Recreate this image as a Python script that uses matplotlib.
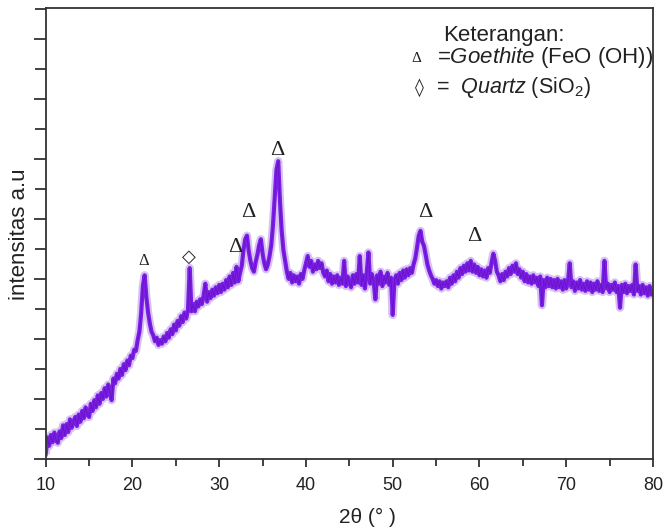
import numpy as np
import matplotlib
matplotlib.use("Agg")
import matplotlib.pyplot as plt
from matplotlib.ticker import MultipleLocator

plt.rcParams['font.family'] = ['Liberation Sans', 'DejaVu Sans']
plt.rcParams['mathtext.fontset'] = 'custom'
plt.rcParams['mathtext.rm'] = 'Liberation Sans'
plt.rcParams['mathtext.it'] = 'Liberation Sans:italic'

# 2-theta from 10 to 80 in 0.2 degree steps; intensity (a.u.)
two_theta_start, two_theta_end = 10, 80
intensity = [
    # 10.0 - 11.8
    0.08, 0.36, 0.22, 0.40, 0.28, 0.44, 0.31, 0.27, 0.46, 0.35,
    # 12.0 - 13.8
    0.56, 0.40, 0.58, 0.45, 0.66, 0.52, 0.62, 0.70, 0.55, 0.74,
    # 14.0 - 15.8
    0.62, 0.80, 0.68, 0.86, 0.74, 0.70, 0.92, 0.80, 0.98, 0.86,
    # 16.0 - 17.8
    1.06, 0.92, 1.10, 1.00, 1.18, 1.04, 1.24, 1.12, 0.98, 1.34,
    # 18.0 - 19.8
    1.26, 1.42, 1.34, 1.50, 1.40, 1.58, 1.48, 1.64, 1.56, 1.72,
    # 20.0 - 21.8
    1.68, 1.82, 1.80, 1.98, 2.12, 2.42, 2.88, 3.06, 2.70, 2.44,
    # 22.0 - 23.8
    2.26, 2.12, 2.06, 1.96, 2.02, 1.90, 1.98, 1.92, 2.04, 1.96,
    # 24.0 - 25.8
    2.10, 2.02, 2.16, 2.08, 2.24, 2.14, 2.30, 2.22, 2.38, 2.28,
    # 26.0 - 27.8
    2.44, 2.34, 2.48, 3.18, 2.46, 2.58, 2.46, 2.62, 2.54, 2.66,
    # 28.0 - 29.8
    2.58, 2.72, 2.92, 2.62, 2.78, 2.68, 2.82, 2.72, 2.86, 2.76,
    # 30.0 - 31.8
    2.90, 2.78, 2.92, 2.82, 2.98, 2.86, 3.04, 2.90, 3.10, 2.94,
    # 32.0 - 33.8
    3.20, 2.96, 3.10, 3.22, 3.48, 3.66, 3.72, 3.46, 3.30, 3.18,
    # 34.0 - 35.8
    3.12, 3.28, 3.40, 3.56, 3.66, 3.42, 3.26, 3.16, 3.24, 3.38,
    # 36.0 - 37.8
    3.56, 3.90, 4.35, 4.82, 4.96, 4.30, 3.80, 3.48, 3.30, 3.12,
    # 38.0 - 39.8
    3.00, 3.10, 2.94, 3.06, 2.96, 3.04, 2.92, 3.08, 3.00, 3.14,
    # 40.0 - 41.8
    3.26, 3.38, 3.20, 3.30, 3.12, 3.24, 3.16, 3.30, 3.18, 3.26,
    # 42.0 - 43.8
    3.10, 3.04, 3.14, 2.96, 3.08, 2.92, 3.04, 2.94, 3.06, 2.90,
    # 44.0 - 45.8
    3.02, 2.92, 3.30, 2.88, 3.04, 2.94, 2.86, 3.06, 2.92, 3.08,
    # 46.0 - 47.8
    2.94, 3.38, 2.90, 3.06, 2.84, 3.10, 3.44, 2.92, 3.08, 2.96,
    # 48.0 - 49.8
    2.66, 3.06, 2.92, 3.12, 2.88, 3.04, 2.94, 3.10, 2.90, 3.02,
    # 50.0 - 51.8
    2.40, 2.98, 3.06, 2.92, 3.10, 2.98, 3.14, 3.02, 3.16, 3.06,
    # 52.0 - 53.8
    3.18, 3.10, 3.24, 3.34, 3.52, 3.72, 3.80, 3.62, 3.55, 3.40,
    # 54.0 - 55.8
    3.24, 3.14, 3.06, 3.00, 2.92, 2.98, 2.88, 2.96, 2.84, 2.94,
    # 56.0 - 57.8
    2.88, 2.96, 2.86, 3.02, 2.92, 3.06, 2.96, 3.12, 3.02, 3.18,
    # 58.0 - 59.8
    3.08, 3.22, 3.12, 3.26, 3.14, 3.30, 3.12, 3.24, 3.10, 3.20,
    # 60.0 - 61.8
    3.06, 3.16, 3.04, 3.14, 3.02, 3.18, 3.10, 3.28, 3.42, 3.30,
    # 62.0 - 63.8
    3.12, 3.06, 2.96, 3.08, 2.98, 3.12, 3.04, 3.18, 3.08, 3.22,
    # 64.0 - 65.8
    3.12, 3.26, 3.08, 3.16, 3.02, 3.12, 2.96, 3.08, 2.94, 3.04,
    # 66.0 - 67.8
    2.92, 3.06, 2.94, 3.02, 2.88, 3.04, 2.56, 2.98, 2.86, 3.02,
    # 68.0 - 69.8
    2.88, 3.00, 2.86, 2.98, 2.84, 3.00, 2.86, 2.96, 2.82, 2.98,
    # 70.0 - 71.8
    2.84, 2.96, 3.26, 2.86, 2.96, 2.80, 2.94, 2.84, 2.98, 2.82,
    # 72.0 - 73.8
    2.92, 2.80, 2.96, 2.82, 2.94, 2.78, 2.92, 2.82, 2.96, 2.80,
    # 74.0 - 75.8
    2.90, 2.78, 3.30, 2.84, 2.92, 2.78, 2.90, 2.82, 2.94, 2.78,
    # 76.0 - 77.8
    2.88, 2.52, 2.90, 2.78, 2.92, 2.76, 2.88, 2.80, 2.90, 2.74,
    # 78.0 - 79.8
    3.24, 2.80, 2.88, 2.74, 2.90, 2.76, 2.86, 2.72, 2.88, 2.74,
    # 80.0
    2.78,
]
two_theta = np.linspace(two_theta_start, two_theta_end, len(intensity))

# peak labels
goethite_peaks_x = [21.33, 31.9, 33.35, 36.7, 53.72, 59.37]
goethite_peaks_y = [3.29, 3.52, 4.11, 5.13, 4.10, 3.71]
goethite_sizes = [12, 16, 16, 16, 16, 16]
quartz_peaks_x = [26.55]
quartz_peaks_y = [3.37]

W, H = 665, 528
fig = plt.figure(figsize=(W / 100, H / 100), dpi=100)
ax = fig.add_axes([45.7 / W, 1 - 459 / H, (653 - 45.7) / W, (459 - 7.5) / H])

ax.plot(two_theta, intensity, color='#c6aaee', lw=6.0, alpha=0.7, solid_capstyle='butt')
ax.plot(two_theta, intensity, color='#7c1ee8', lw=3.0)
ax.plot(two_theta, intensity, color='#5e12b8', lw=0.6, alpha=0.8)

ax.set_xlim(10, 80)
ax.set_ylim(0, 7.52)
ax.xaxis.set_major_locator(MultipleLocator(10))
ax.xaxis.set_minor_locator(MultipleLocator(5))
ax.yaxis.set_major_locator(MultipleLocator(1))
ax.yaxis.set_minor_locator(MultipleLocator(0.5))
ax.tick_params(axis='y', which='major', direction='out', length=9, width=1.3, labelleft=False)
ax.tick_params(axis='y', which='minor', direction='out', length=8, width=1.3)
ax.tick_params(axis='x', which='major', direction='out', length=6, width=1.3, labelsize=13, pad=7,
               colors='#333333', labelcolor='#222222')
ax.tick_params(axis='x', which='minor', direction='out', length=5, width=1.3, colors='#333333')
ax.tick_params(axis='y', which='both', colors='#333333')
for s in ax.spines.values():
    s.set_linewidth(1.3)
    s.set_color('#333333')

for x, y, sz in zip(goethite_peaks_x, goethite_peaks_y, goethite_sizes):
    ax.text(x, y, 'Δ', fontsize=sz, family=['Liberation Serif', 'DejaVu Serif'],
            ha='center', va='center', color='#222222')
for x, y in zip(quartz_peaks_x, quartz_peaks_y):
    ax.text(x, y, '◇', fontsize=13, family=['DejaVu Sans'],
            ha='center', va='center', color='#222222')

def fx(px):
    return px / W

def fy(py):
    return 1 - py / H

fig.text(fx(443), fy(35), 'Keterangan:', fontsize=16, ha='left', va='center', color='#222222')
fig.text(fx(416.5), fy(59), 'Δ', fontsize=11, family=['Liberation Serif', 'DejaVu Serif'],
         ha='center', va='center', color='#222222')
fig.text(fx(437), fy(58), r'=$\it{Goethite}$ (FeO (OH))', fontsize=16, ha='left', va='center', color='#222222')
fig.text(fx(419), fy(88), '◊', fontsize=13, family=['DejaVu Sans'], ha='center', va='center', color='#222222')
fig.text(fx(436), fy(88), r'=  $\it{Quartz}$ (SiO$_2$)', fontsize=15.5, ha='left', va='center', color='#222222')

fig.text(fx(367), fy(517), '2θ (° )', fontsize=15, ha='center', va='center', color='#222222')
fig.text(fx(20), fy(234), 'intensitas a.u', fontsize=16, rotation=90, ha='center', va='center', color='#222222')

fig.savefig('out.png', dpi=100)
